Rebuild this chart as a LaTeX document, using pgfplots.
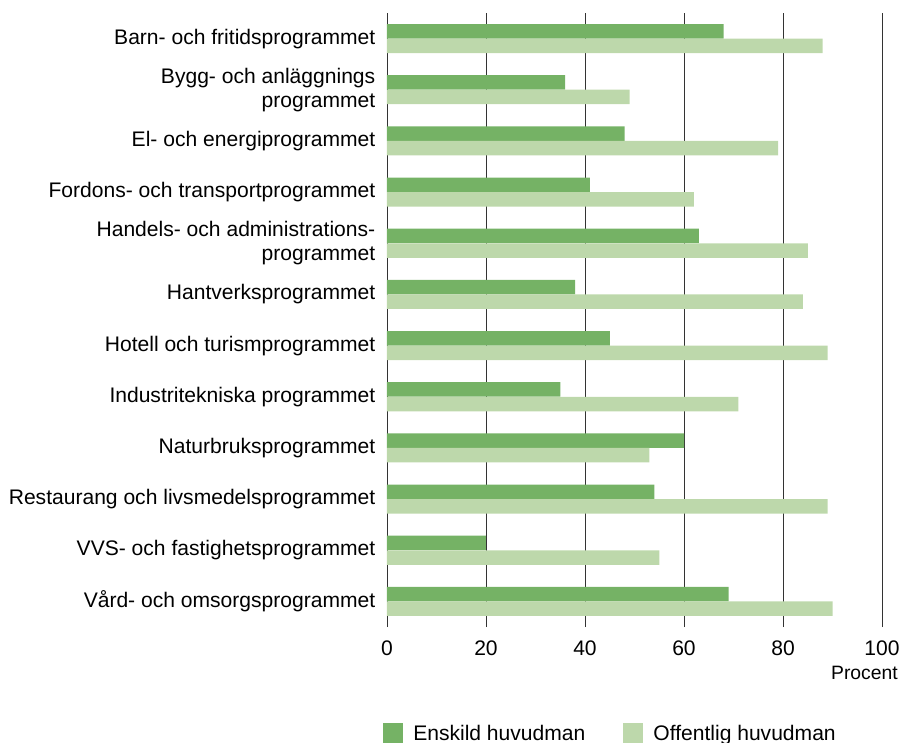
\documentclass[border=0pt]{standalone}
\usepackage{fontspec}
\setmainfont{Liberation Sans}
\usepackage{pgfplots}
\pgfplotsset{compat=1.18}

\definecolor{enskild}{RGB}{117,178,101}
\definecolor{offentlig}{RGB}{189,216,171}
\newcommand{\lblfont}{\fontsize{15.8}{18}\selectfont}

\begin{document}
\begin{tikzpicture}
% page = 912x742 px at 0.75pt per px, axis box at (0,0)
\useasboundingbox (-290.25pt,-86.25pt) rectangle (393.75pt,470.25pt);
\begin{axis}[
  width=371.25pt,
  height=460.5pt,
  scale only axis,
  clip=false,
  xbar,
  bar width=10.875pt,
  xmin=0, xmax=100,
  ymin=-0.5, ymax=11.5,
  xtick={0,20,...,100},
  ytick={0,...,11},
  yticklabels={
    Vård- och omsorgsprogrammet,
    VVS- och fastighetsprogrammet,
    Restaurang och livsmedelsprogrammet,
    Naturbruksprogrammet,
    Industritekniska programmet,
    Hotell och turismprogrammet,
    Hantverksprogrammet,
    {Handels- och administrations-\\programmet},
    Fordons- och transportprogrammet,
    El- och energiprogrammet,
    {Bygg- och anläggnings\\programmet},
    Barn- och fritidsprogrammet},
  axis line style={draw=none},
  major tick length=0pt,
  xmajorgrids,
  grid style={black!80, line width=0.6pt},
  /pgf/number format/assume math mode=true,
  tick label style={font=\lblfont},
  xticklabel style={yshift=-6.5pt},
  yticklabel style={align=right, xshift=-5.25pt},
  legend columns=2,
  legend cell align=left,
  legend image code/.code={\fill[#1] (0pt,-6.75pt) rectangle (15pt,8.25pt);},
  legend style={draw=none, fill=none, inner sep=0pt,
    at={(rel axis cs:0,0)}, anchor=north west,
    xshift=-3pt, yshift=-72pt,
    font=\lblfont,
    nodes={inner sep=0pt},
    column sep=7.5pt,
    /tikz/every even column/.append style={column sep=28.5pt}},
]
\addplot[fill=enskild, draw=none, bar shift=5.44pt] coordinates {
  (69,0) (20,1) (54,2) (60,3) (35,4) (45,5)
  (38,6) (63,7) (41,8) (48,9) (36,10) (68,11)
};
\addplot[fill=offentlig, draw=none, bar shift=-5.44pt] coordinates {
  (90,0) (55,1) (89,2) (53,3) (71,4) (89,5)
  (84,6) (85,7) (62,8) (79,9) (49,10) (88,11)
};
\legend{Enskild huvudman, Offentlig huvudman}
\node[anchor=base east, inner sep=0pt, font=\fontsize{14.5}{17}\selectfont,
  xshift=12pt, yshift=-39pt] at (rel axis cs:1,0) {Procent};
\end{axis}
\end{tikzpicture}
\end{document}
